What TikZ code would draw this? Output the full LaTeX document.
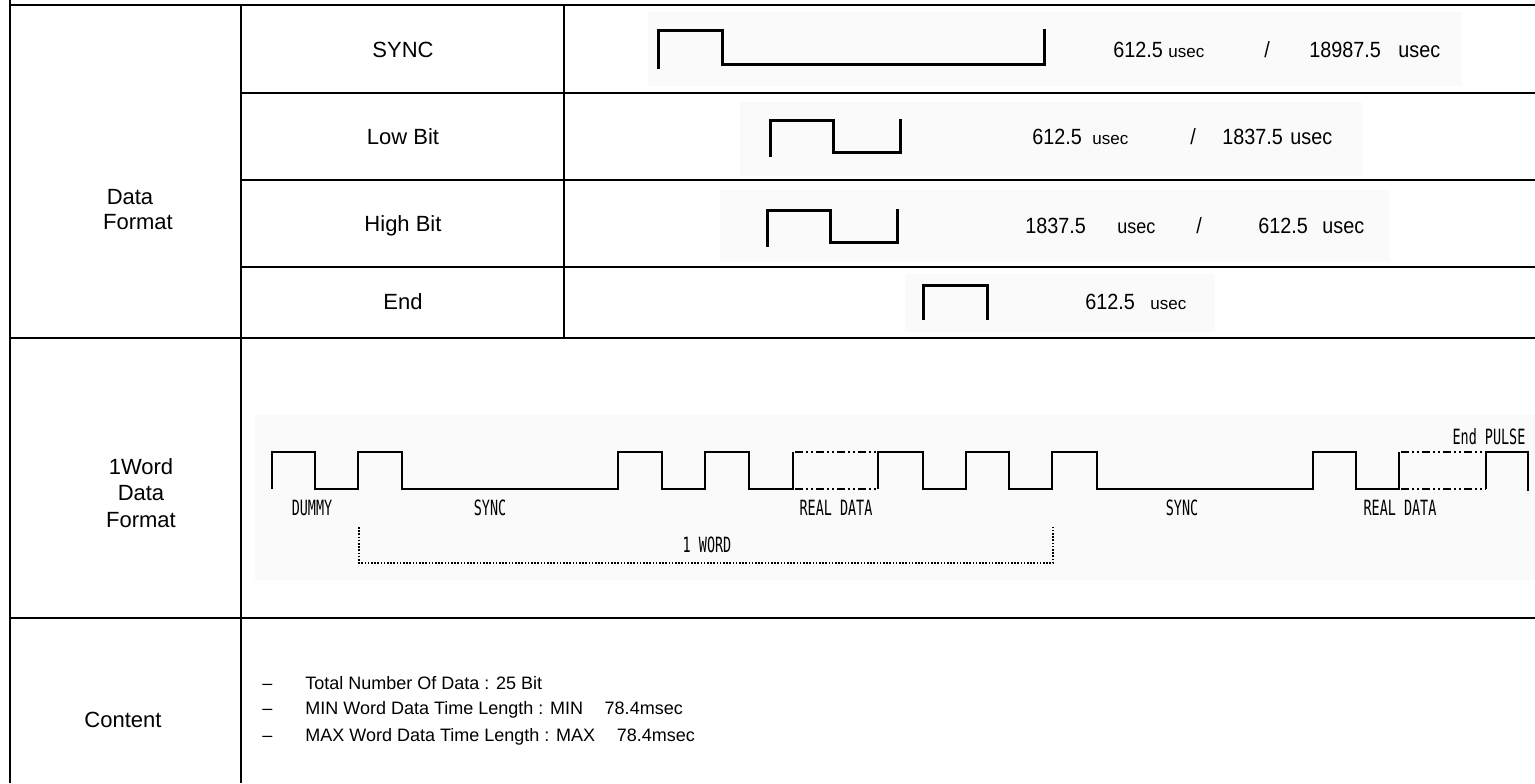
\documentclass[tikz,border=0pt]{standalone}
\usepackage{fontspec}
\usepackage{graphicx}
\setmainfont{Liberation Sans}
\newfontfamily\wavefont{DejaVu Sans Mono}
\newcommand{\wv}[1]{\scalebox{0.64}[1]{#1}}
\newcommand{\nm}[1]{\scalebox{0.9}[1]{\fontsize{11}{12}\selectfont #1}}
\newcommand{\us}{{\fontsize{8.5}{9}\selectfont usec}}
\newcommand{\usm}{\scalebox{0.9}[1]{\fontsize{10}{12}\selectfont usec}}
\newcommand{\usb}{\scalebox{0.9}[1]{\fontsize{11}{12}\selectfont usec}}
\begin{document}
\begin{tikzpicture}[x=0.5pt,y=-0.5pt,
  tbl/.style={line width=1pt},
  pulse/.style={line width=1.5pt,line join=miter,line cap=rect},
  wave/.style={line width=1.1pt,line join=miter},
  ddash/.style={line width=1.1pt,dash pattern=on 4pt off 1.5pt on 1pt off 1.5pt on 1pt off 1.5pt},
  brk/.style={line width=0.6pt,dash pattern=on 0.8pt off 0.8pt},
  lbl/.style={font=\fontsize{11}{13}\selectfont,align=center,inner sep=0pt},
  cnt/.style={font=\fontsize{9}{13.5}\selectfont,inner sep=0pt,anchor=west},
  wlbl/.style={font=\wavefont\fontsize{10.5}{11}\selectfont,inner sep=0pt},
  val/.style={inner sep=0pt,anchor=base west},
  bg/.style={fill=black!2,draw=none}]
\useasboundingbox (0,0) rectangle (1535,783);
% faint image backgrounds
\fill[bg] (648,12) rectangle (1462,86);
\fill[bg] (740,102) rectangle (1362,176);
\fill[bg] (720,190) rectangle (1390,262);
\fill[bg] (905,274) rectangle (1215,332);
\fill[bg] (255,415) rectangle (1535,580);
% table
\draw[tbl] (10,0) -- (10,783);
\draw[tbl] (10,5) -- (1535,5);
\draw[tbl] (241,5) -- (241,783);
\draw[tbl] (564,5) -- (564,338);
\draw[tbl] (241,93) -- (1535,93);
\draw[tbl] (241,180) -- (1535,180);
\draw[tbl] (241,267) -- (1535,267);
\draw[tbl] (10,338) -- (1535,338);
\draw[tbl] (10,618) -- (1535,618);
% left labels
\node[lbl] (df1) at (130,197) {Data};
\node[lbl] (df2) at (138,222) {Format};
\node[lbl] (w1) at (141,467) {1Word};
\node[lbl] (w2) at (141,493) {Data};
\node[lbl] (w3) at (141,520) {Format};
\node[lbl] (ct) at (123,720) {Content};
% middle labels
\node[lbl] (ls) at (403,50) {SYNC};
\node[lbl] (ll) at (403,137) {Low Bit};
\node[lbl] (lh) at (403,226) {High Bit};
\node[lbl] (le) at (403,302) {End};
% pulses
\draw[pulse] (658,67) -- (658,30) -- (722,30) -- (722,64) -- (1044,64) -- (1044,30);
\draw[pulse] (770,155) -- (770,120) -- (833,120) -- (833,152) -- (900,152) -- (900,120);
\draw[pulse] (767,245) -- (767,210) -- (830,210) -- (830,242) -- (897,242) -- (897,210);
\draw[pulse] (923,318) -- (923,285) -- (987,285) -- (987,318);
% values
\node[val] (s1) at (1113,57) {\nm{612.5}};
\node[val] (s2) at (1168,57) {\us};
\node[val] (s3) at (1264,57) {\nm{/}};
\node[val] (s4) at (1309,57) {\nm{18987.5}};
\node[val] (s5) at (1398,57) {\usb};
\node[val] (b1) at (1032,144) {\nm{612.5}};
\node[val] (b2) at (1092,144) {\us};
\node[val] (b3) at (1190,144) {\nm{/}};
\node[val] (b4) at (1222,144) {\nm{1837.5}};
\node[val] (b5) at (1290,144) {\usb};
\node[val] (h1) at (1025,233) {\nm{1837.5}};
\node[val] (h2) at (1117,233) {\usm};
\node[val] (h3) at (1196,233) {\nm{/}};
\node[val] (h4) at (1258,233) {\nm{612.5}};
\node[val] (h5) at (1322,233) {\usb};
\node[val] (e1) at (1085,309) {\nm{612.5}};
\node[val] (e2) at (1150,309) {\us};
% word waveform
\draw[wave] (272,489) -- (272,452) -- (315,452) -- (315,489) -- (358,489) -- (358,452) -- (402,452) -- (402,489)
  -- (618,489) -- (618,452) -- (662,452) -- (662,489) -- (705,489) -- (705,452) -- (749,452) -- (749,489)
  -- (793,489) -- (793,452);
\draw[ddash] (795,452) -- (878,452);
\draw[ddash] (795,489) -- (878,489);
\draw[wave] (878,489) -- (878,452) -- (923,452) -- (923,489) -- (966,489) -- (966,452) -- (1009,452) -- (1009,489)
  -- (1052,489) -- (1052,452) -- (1097,452) -- (1097,489) -- (1313,489) -- (1313,452) -- (1356,452) -- (1356,489)
  -- (1399,489) -- (1399,452);
\draw[ddash] (1401,452) -- (1486,452);
\draw[ddash] (1401,489) -- (1486,489);
\draw[wave] (1486,489) -- (1486,452) -- (1528,452) -- (1528,491);
% word bracket
\coordinate (bl) at (359,527);
\coordinate (br) at (1053,527);
\draw[brk] (bl) -- (359,563) -- (1053,563) -- (br);
% waveform labels
\node[wlbl] (d1) at (312,508) {\wv{DUMMY}};
\node[wlbl] (d2) at (490,508) {\wv{SYNC}};
\node[wlbl] (d3) at (836,508) {\wv{REAL DATA}};
\node[wlbl] (d4) at (707,545) {\wv{1 WORD}};
\node[wlbl] (d5) at (1182,508) {\wv{SYNC}};
\node[wlbl] (d6) at (1400,508) {\wv{REAL DATA}};
\node[wlbl] (d7) at (1489,437) {\wv{End PULSE}};
% content
\node[cnt] (c1) at (262,683) {\makebox[21.5pt][l]{--}Total Number Of Data : 25 Bit};
\node[cnt] (c2) at (262,710) {\makebox[21.5pt][l]{--}MIN Word Data Time Length : MIN\hspace{1.2em}78.4msec};
\node[cnt] (c3) at (262,737) {\makebox[21.5pt][l]{--}MAX Word Data Time Length : MAX\hspace{1.2em}78.4msec};
\end{tikzpicture}
\end{document}
